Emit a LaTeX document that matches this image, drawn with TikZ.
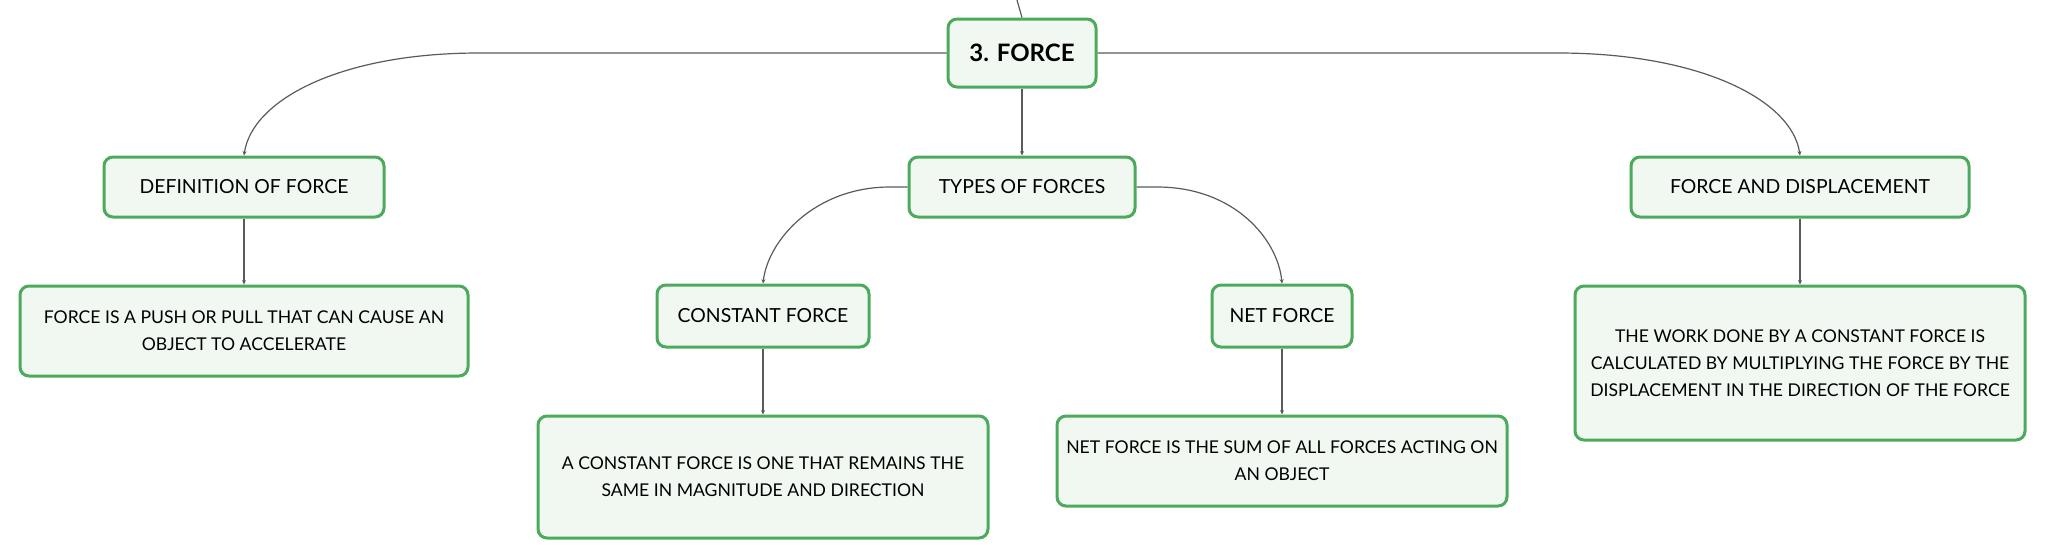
\documentclass[tikz,border=0pt]{standalone}
\usepackage{fontspec}
\setmainfont{Lato}
\usetikzlibrary{arrows.meta}
\definecolor{boxgreen}{RGB}{76,170,92}
\definecolor{boxfill}{RGB}{241,248,242}
\definecolor{linegray}{RGB}{90,90,90}
\tikzset{
  mbox/.style={draw=boxgreen, line width=1.5pt, fill=boxfill, rounded corners=4.5pt,
    inner sep=0pt, align=center, font=\fontsize{8.8}{13.4}\selectfont, text=black},
  lbl/.style={mbox, font=\fontsize{9.7}{12}\selectfont},
  conn/.style={draw=linegray, line width=0.6pt, -{Stealth[length=2.2pt,width=2pt]}},
  plainconn/.style={draw=linegray, line width=0.6pt}
}
\begin{document}
\begin{tikzpicture}[x=0.5pt,y=-0.5pt]
\useasboundingbox (0,0) rectangle (2046,559);
% nodes
\node[mbox, minimum width=74pt, minimum height=34pt, font=\fontsize{12}{14}\selectfont\bfseries] (force) at (1022,53) {3. FORCE};
\node[lbl, minimum width=140pt, minimum height=30pt] (def) at (244,187) {DEFINITION OF FORCE};
\node[lbl, minimum width=113pt, minimum height=30pt] (types) at (1022,187) {TYPES OF FORCES};
\node[lbl, minimum width=169pt, minimum height=30pt] (fd) at (1800,187) {FORCE AND DISPLACEMENT};
\node[mbox, minimum width=224pt, minimum height=45pt] (defT) at (244,331) {FORCE IS A PUSH OR PULL THAT CAN CAUSE AN\\OBJECT TO ACCELERATE};
\node[lbl, minimum width=106pt, minimum height=31pt] (cf) at (763,316) {CONSTANT FORCE};
\node[lbl, minimum width=70pt, minimum height=31pt] (nf) at (1282,316) {NET FORCE};
\node[mbox, minimum width=225pt, minimum height=61pt] (cfT) at (763,477) {A CONSTANT FORCE IS ONE THAT REMAINS THE\\SAME IN MAGNITUDE AND DIRECTION};
\node[mbox, minimum width=225pt, minimum height=45pt] (nfT) at (1282,461) {NET FORCE IS THE SUM OF ALL FORCES ACTING ON\\AN OBJECT};
\node[mbox, minimum width=225pt, minimum height=77pt] (fdT) at (1800,363) {THE WORK DONE BY A CONSTANT FORCE IS\\CALCULATED BY MULTIPLYING THE FORCE BY THE\\DISPLACEMENT IN THE DIRECTION OF THE FORCE};
% connectors
\coordinate (topend) at (1017,0);
\draw[plainconn] (topend) .. controls (1019,8) .. (force.north);
\draw[conn] (force.west) -- (479,53) .. controls (340,53) and (252,100) .. (def.north);
\draw[conn] (force.east) -- (1558,53) .. controls (1700,53) and (1792,100) .. (fd.north);
\draw[conn] (force.south) -- (types.north);
\draw[conn] (types.west) -- (890,187) .. controls (815,187) and (768,240) .. (cf.north);
\draw[conn] (types.east) -- (1157,187) .. controls (1235,187) and (1278,240) .. (nf.north);
\draw[conn] (def.south) -- (defT.north);
\draw[conn] (fd.south) -- (fdT.north);
\draw[conn] (cf.south) -- (cfT.north);
\draw[conn] (nf.south) -- (nfT.north);
\end{tikzpicture}
\end{document}
